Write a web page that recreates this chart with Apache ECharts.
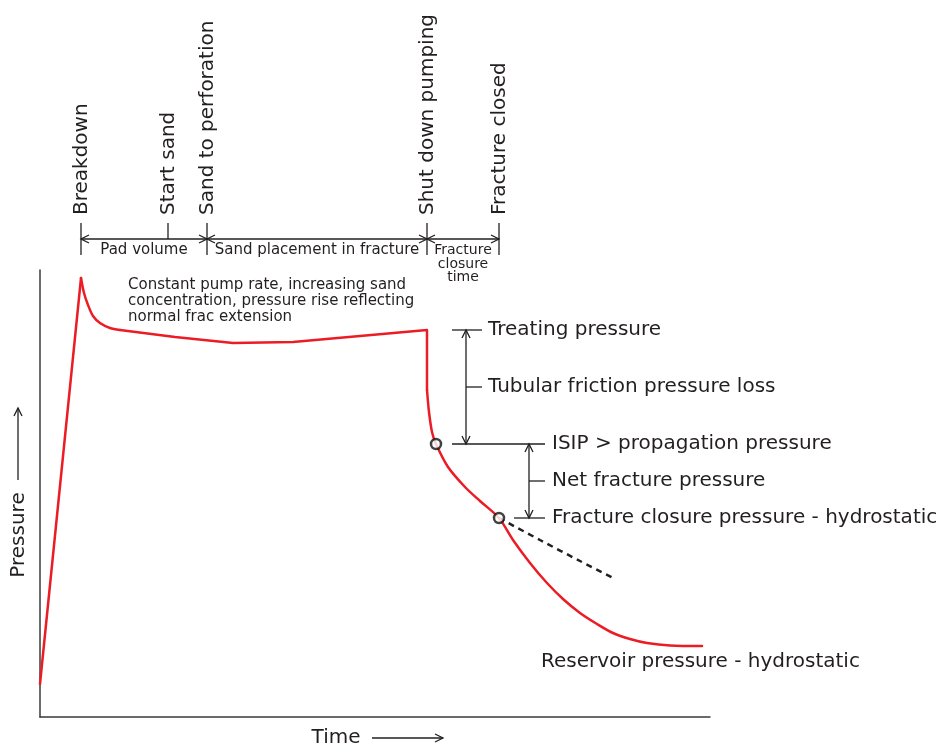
<!DOCTYPE html>
<html>
<head>
<meta charset="utf-8">
<script src="https://cdn.jsdelivr.net/npm/echarts@6/dist/echarts.min.js"></script>
<style>
  html, body { margin: 0; background: #fff; }
  #chart { width: 942px; height: 746px; }
</style>
</head>
<body>
<div id="chart"></div>
<script>
// Pressure trace (arbitrary time / pressure units)
const traceTime = [0, 41, 44, 48, 53, 60, 70, 80, 135, 193, 253, 387, 387, 389, 392, 396,
  408, 425, 440, 459, 473, 490, 507, 523, 540, 557, 573, 590, 607, 630, 662];
const tracePressure = [33, 439, 424, 412, 401, 394, 389, 387, 380, 374, 375, 387, 327, 305, 285, 273,
  250, 230, 216, 199, 177, 154, 134, 118, 104, 93, 84, 78, 74, 71.5, 71];
// where the trace is a smooth curve rather than straight pieces: [first, last] index
const curvedParts = [[1, 7], [12, 30]];

// Extrapolated decline if the fracture stayed open (dashed)
const openTime = [459, 500, 540, 575];
const openPressure = [199, 177, 156, 138];

// Marked points: ISIP and fracture closure
const keyTime = [396, 459];
const keyPressure = [273, 199];

// Events along the top
const eventNames = ['Breakdown', 'Start sand', 'Sand to perforation', 'Shut down pumping', 'Fracture closed'];
const eventTimes = [41, 128, 167, 387, 459];
const phaseNames = ['Pad volume', 'Sand placement in fracture', 'Fracture\nclosure\ntime'];
const phaseBounds = [[41, 167], [167, 387], [387, 459]];

// Pressure levels for the right-hand brackets
const treatingP = 387;
const isipP = 273;
const closureP = 199;

const red = '#ec1c24';
const ink = '#231f20';
const font = '"DejaVu Sans", sans-serif';

const zip = (a, b) => a.map((v, i) => [v, b[i]]);
const trace = zip(traceTime, tracePressure);

// straight pieces between the curved parts, curved parts smoothed
const traceSeries = [];
let from = 0;
curvedParts.forEach(([a, b]) => {
  if (a > from) traceSeries.push({ pts: trace.slice(from, a + 1), smooth: false });
  traceSeries.push({ pts: trace.slice(a, b + 1), smooth: true });
  from = b;
});
if (from < trace.length - 1) traceSeries.push({ pts: trace.slice(from), smooth: false });

const chart = echarts.init(document.getElementById('chart'));

chart.setOption({
  animation: false,
  backgroundColor: '#fff',
  grid: { left: 40, top: 270, right: 232, bottom: 29 },
  xAxis: {
    type: 'value', min: 0, max: 670,
    axisLine: { lineStyle: { color: '#3a3a3a', width: 1.5 } },
    axisTick: { show: false }, axisLabel: { show: false }, splitLine: { show: false }
  },
  yAxis: {
    type: 'value', min: 0, max: 447,
    axisLine: { show: true, lineStyle: { color: '#3a3a3a', width: 1.5 } },
    axisTick: { show: false }, axisLabel: { show: false }, splitLine: { show: false }
  },
  series: [
    {
      type: 'line',
      data: zip(openTime, openPressure),
      showSymbol: false,
      smooth: 0.3,
      lineStyle: { color: ink, width: 2.5, type: [6, 5] },
      z: 2
    },
    ...traceSeries.map(s => ({
      type: 'line',
      data: s.pts,
      showSymbol: false,
      smooth: s.smooth ? 0.3 : false,
      lineStyle: { color: red, width: 2.5, join: 'round', cap: 'round' },
      z: 3
    })),
    {
      type: 'scatter',
      data: zip(keyTime, keyPressure),
      symbol: 'circle',
      symbolSize: 10,
      itemStyle: { color: '#fff', borderColor: '#111', borderWidth: 2.5 },
      z: 4
    }
  ]
});

// ---- annotations, placed through the axes ----
const P = (t, p) => chart.convertToPixel({ gridIndex: 0 }, [t, p]);

function seg(a, b) {
  return { type: 'line', silent: true, shape: { x1: a[0], y1: a[1], x2: b[0], y2: b[1] },
    style: { stroke: ink, lineWidth: 1.3 } };
}
function head(tip, dx, dy) {
  const L = 8, W = 4;
  const bx = tip[0] - dx * L, by = tip[1] - dy * L;
  return { type: 'polyline', silent: true,
    shape: { points: [[bx - dy * W, by + dx * W], [tip[0], tip[1]], [bx + dy * W, by - dx * W]] },
    style: { stroke: ink, lineWidth: 1.3, fill: null } };
}
function text(pos, str, size, extra) {
  return { type: 'text', silent: true, x: pos[0], y: pos[1], rotation: (extra && extra.rotation) || 0,
    style: Object.assign({ text: str, fill: ink, fontSize: size, fontFamily: font,
      align: 'left', verticalAlign: 'middle' }, extra && extra.style) };
}

const g = [];

// top event ticks, labels and phase arrows
const tickTop = 494, tickBottom = 462, arrowP = 478, labelP = 502;
eventTimes.forEach((t, i) => {
  const bottom = i === 1 ? arrowP : tickBottom;
  g.push(seg(P(t, tickTop), P(t, bottom)));
  const at = P(t, labelP);
  g.push(text([at[0] + 1, at[1]], eventNames[i], 20, { rotation: Math.PI / 2 }));
});
phaseBounds.forEach((b, i) => {
  const a = P(b[0], arrowP), c = P(b[1], arrowP);
  g.push(seg(a, c), head(a, -1, 0), head(c, 1, 0));
  const mid = (b[0] + b[1]) / 2;
  if (i < 2) {
    g.push(text(P(mid, 467), phaseNames[i], 15, { style: { align: 'center' } }));
  } else {
    g.push(text(P(mid, 453), phaseNames[i], 14, { style: { align: 'center', lineHeight: 13.5 } }));
  }
});

g.push(text(P(88, 440), 'Constant pump rate, increasing sand\nconcentration, pressure rise reflecting\nnormal frac extension', 15,
  { style: { verticalAlign: 'top', lineHeight: 16 } }));

// right-hand pressure brackets
g.push(seg(P(412, treatingP), P(442, treatingP)));
g.push(seg(P(426, treatingP), P(426, isipP)), head(P(426, treatingP), 0, -1), head(P(426, isipP), 0, 1));
g.push(seg(P(426, 330), P(442, 330)));
g.push(seg(P(412, isipP), P(505, isipP)));
g.push(seg(P(489, isipP), P(489, closureP)), head(P(489, isipP), 0, -1), head(P(489, closureP), 0, 1));
g.push(seg(P(489, 236), P(505, 236)));
g.push(seg(P(474, closureP), P(505, closureP)));

g.push(text(P(448, treatingP), 'Treating pressure', 20));
g.push(text(P(448, 330), 'Tubular friction pressure loss', 20));
g.push(text(P(512, isipP), 'ISIP > propagation pressure', 20));
g.push(text(P(512, 236), 'Net fracture pressure', 20));
g.push(text(P(512, closureP), 'Fracture closure pressure - hydrostatic', 20));
g.push(text(P(501, 55), 'Reservoir pressure - hydrostatic', 20));

// axis titles with arrows
g.push(text(P(296, -21), 'Time', 20, { style: { align: 'center' } }));
g.push(seg(P(332, -21), P(403, -21)), head(P(403, -21), 1, 0));
g.push(text(P(-21, 182), 'Pressure', 20, { rotation: Math.PI / 2, style: { align: 'center' } }));
g.push(seg(P(-22, 237), P(-22, 309)), head(P(-22, 309), 0, -1));

chart.setOption({ graphic: g });
</script>
</body>
</html>
